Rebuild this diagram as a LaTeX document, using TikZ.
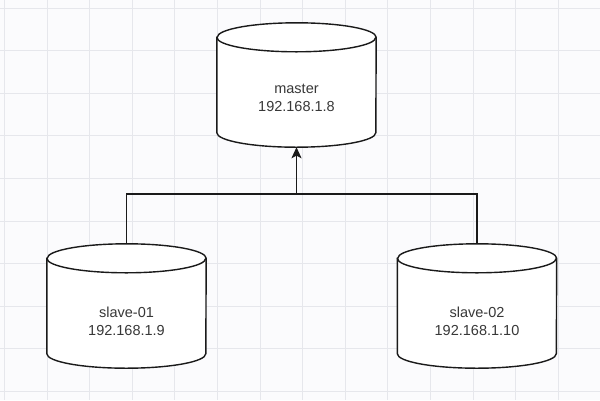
\documentclass[tikz,border=0pt]{standalone}
\usepackage{fontspec}
\setmainfont{Liberation Sans}
\usetikzlibrary{arrows.meta}
\definecolor{bgcol}{HTML}{FBFBFD}
\definecolor{gridcol}{HTML}{E6E7EC}
\definecolor{inkcol}{HTML}{1A1A1A}
\definecolor{txtcol}{HTML}{383838}
\tikzset{
  gridline/.style={draw=gridcol, line width=0.9pt},
  cylbox/.style={draw=none, inner sep=0pt, minimum width=159pt, minimum height=124pt},
  cylbody/.style={draw=inkcol, fill=white, line width=1.4pt},
  cylrim/.style={draw=inkcol, line width=1.4pt},
  lbl/.style={align=center, text=txtcol, font=\fontsize{14.5pt}{17.5pt}\selectfont, inner sep=0pt},
  conn/.style={draw=inkcol, line width=1.4pt},
  arr/.style={conn, -{Stealth[length=11pt, width=10pt, inset=2.5pt]}}
}
\newcommand\drawcyl[1]{%
  \draw[cylbody] ([yshift=-14.5pt]#1.north west) -- ([yshift=14.5pt]#1.south west)
    arc[start angle=180, end angle=360, x radius=79.5pt, y radius=14.5pt]
    -- ([yshift=-14.5pt]#1.north east)
    arc[start angle=0, end angle=180, x radius=79.5pt, y radius=14.5pt] -- cycle;
  \draw[cylrim] ([yshift=-14.5pt]#1.north west)
    arc[start angle=180, end angle=360, x radius=79.5pt, y radius=14.5pt];
}
\begin{document}
\begin{tikzpicture}[x=1pt, y=-1pt]
  \useasboundingbox (0,0) rectangle (600,400);
  \fill[bgcol] (0,0) rectangle (600,400);
  \foreach \i in {0,...,13} \draw[gridline] ({4.5+42.6*\i},0) -- ++(0,400);
  \foreach \j in {0,...,9} \draw[gridline] (0,{8+42.6*\j}) -- ++(600,0);

  \node[cylbox] (m) at (296.5,85) {};
  \node[cylbox] (s1) at (126.5,306) {};
  \node[cylbox] (s2) at (477,306) {};
  \drawcyl{m}
  \drawcyl{s1}
  \drawcyl{s2}

  \node[lbl] (mt) at (296.5,98) {master\\192.168.1.8};
  \node[lbl] (s1t) at (126.5,321.5) {slave-01\\192.168.1.9};
  \node[lbl] (s2t) at (477,321.5) {slave-02\\192.168.1.10};

  \coordinate (j) at (296.5,194);
  \draw[conn] (s1.north) |- (j) -| (s2.north);
  \draw[arr] (j) -- (m.south);
\end{tikzpicture}
\end{document}
